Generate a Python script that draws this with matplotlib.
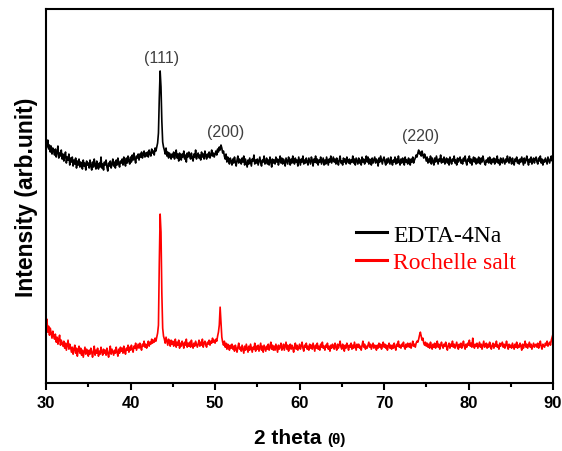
import numpy as np
import matplotlib
matplotlib.use("Agg")
import matplotlib.pyplot as plt
from matplotlib.ticker import MultipleLocator

# 2-theta grid, 30..90 deg in 0.1 deg steps
two_theta = np.round(np.arange(30.0, 90.001, 0.1), 1)

# intensity (arb.), one row per degree: x.0 ... x.9
edta_4na = [
    241, 236, 243, 234, 238, 231, 237, 229, 235, 232,  # 30
    228, 234, 226, 231, 237, 225, 230, 227, 233, 224,
    229, 222, 227, 231, 220, 226, 223, 229, 218, 225,
    221, 226, 217, 223, 219, 225, 215, 222, 218, 224,
    216, 221, 219, 214, 223, 217, 220, 213, 222, 218,
    220, 215, 223, 217, 213, 221, 216, 224, 218, 214,  # 35
    222, 217, 214, 220, 216, 226, 215, 219, 213, 221,
    218, 223, 216, 212, 220, 217, 222, 215, 219, 224,
    217, 221, 215, 223, 218, 225, 219, 216, 222, 220,
    224, 218, 226, 221, 217, 225, 220, 227, 222, 219,
    226, 221, 228, 223, 230, 224, 220, 227, 225, 229,  # 40
    223, 229, 226, 231, 225, 228, 232, 226, 230, 227,
    231, 226, 233, 229, 227, 234, 230, 232, 228, 235,
    232, 236, 240, 250, 285, 312, 296, 262, 241, 236,
    233, 229, 235, 227, 231, 225, 230, 228, 224, 229,
    226, 231, 224, 228, 233, 225, 229, 222, 230, 227,  # 45
    223, 229, 226, 232, 224, 228, 221, 230, 226, 231,
    227, 224, 230, 225, 222, 229, 226, 233, 224, 228,
    230, 225, 228, 223, 231, 226, 229, 224, 232, 227,
    224, 229, 226, 231, 225, 228, 233, 227, 230, 226,
    229, 232, 228, 234, 231, 236, 233, 238, 235, 230,  # 50
    232, 227, 224, 229, 221, 226, 223, 219, 225, 222,
    218, 224, 220, 226, 221, 217, 223, 227, 220, 224,
    222, 219, 225, 221, 227, 218, 224, 220, 216, 223,
    219, 225, 221, 217, 224, 222, 228, 219, 223, 220,
    224, 218, 222, 226, 220, 217, 223, 221, 227, 219,  # 55
    221, 225, 219, 223, 218, 226, 222, 216, 224, 220,
    223, 219, 226, 221, 224, 218, 222, 227, 220, 225,
    219, 224, 221, 217, 225, 222, 219, 226, 223, 218,
    224, 220, 227, 222, 219, 225, 221, 223, 217, 226,
    222, 218, 224, 221, 227, 219, 223, 220, 225, 221,  # 60
    218, 225, 222, 219, 226, 223, 217, 224, 221, 227,
    220, 224, 218, 223, 221, 226, 219, 222, 225, 218,
    223, 219, 226, 222, 218, 224, 221, 227, 220, 223,
    226, 221, 224, 219, 225, 222, 218, 223, 227, 220,
    222, 218, 225, 221, 224, 219, 226, 222, 220, 224,  # 65
    219, 223, 221, 227, 220, 224, 218, 225, 222, 219,
    225, 220, 223, 218, 226, 221, 224, 219, 222, 227,
    221, 226, 219, 224, 222, 218, 225, 220, 223, 226,
    220, 224, 222, 217, 225, 221, 227, 223, 219, 224,
    226, 221, 218, 224, 220, 225, 222, 219, 226, 221,  # 70
    218, 223, 221, 226, 219, 224, 220, 227, 222, 218,
    224, 220, 225, 222, 218, 226, 221, 223, 219, 225,
    222, 218, 224, 221, 226, 220, 223, 225, 228, 226,
    230, 233, 229, 231, 227, 232, 228, 225, 229, 226,
    222, 226, 220, 224, 221, 227, 219, 225, 222, 218,  # 75
    225, 221, 227, 223, 219, 224, 222, 228, 220, 224,
    221, 226, 219, 223, 225, 220, 224, 218, 226, 222,
    219, 224, 222, 227, 220, 223, 218, 225, 221, 224,
    226, 220, 223, 219, 225, 222, 227, 221, 218, 224,
    222, 227, 220, 224, 218, 223, 226, 221, 225, 219,  # 80
    224, 220, 226, 222, 219, 225, 221, 227, 223, 220,
    218, 223, 221, 225, 220, 226, 222, 219, 224, 221,
    225, 219, 224, 221, 227, 220, 223, 218, 225, 222,
    220, 225, 222, 219, 224, 221, 227, 223, 220, 226,
    223, 219, 225, 221, 218, 224, 222, 226, 220, 223,  # 85
    219, 224, 221, 226, 222, 218, 225, 220, 223, 227,
    222, 218, 224, 221, 226, 219, 223, 225, 220, 224,
    226, 221, 219, 225, 222, 227, 220, 224, 218, 223,
    221, 225, 222, 219, 226, 223, 220, 224, 227, 222,
    225,                                               # 90
]

rochelle_salt = [
    58, 64, 51, 57, 48, 55, 50, 45, 52, 47,  # 30
    44, 49, 41, 46, 39, 44, 48, 38, 43, 40,
    37, 42, 35, 40, 33, 38, 43, 34, 39, 36,
    31, 36, 29, 34, 38, 30, 35, 27, 33, 37,
    30, 35, 28, 33, 26, 31, 36, 29, 34, 30,
    27, 33, 29, 35, 31, 26, 32, 37, 28, 33,  # 35
    30, 35, 27, 32, 29, 36, 31, 28, 34, 30,
    33, 28, 35, 30, 26, 32, 37, 29, 34, 31,
    28, 33, 30, 36, 31, 27, 34, 30, 36, 32,
    35, 30, 37, 32, 29, 35, 33, 38, 31, 36,
    33, 38, 34, 31, 37, 35, 40, 33, 36, 39,  # 40
    35, 40, 36, 33, 39, 37, 42, 36, 39, 35,
    38, 42, 37, 41, 39, 44, 40, 43, 41, 45,
    42, 46, 50, 58, 120, 169, 151, 90, 55, 47,
    44, 40, 46, 42, 38, 44, 41, 37, 43, 39,
    42, 37, 40, 44, 36, 41, 38, 43, 35, 40,  # 45
    37, 42, 39, 35, 41, 38, 44, 36, 40, 37,
    41, 36, 43, 38, 35, 40, 37, 42, 39, 36,
    39, 43, 37, 41, 38, 44, 36, 40, 42, 38,
    36, 41, 39, 43, 38, 42, 40, 45, 41, 43,
    40, 44, 42, 47, 51, 58, 76, 60, 46, 41,  # 50
    38, 42, 36, 40, 34, 39, 37, 33, 38, 35,
    39, 34, 37, 32, 38, 35, 31, 36, 40, 34,
    36, 32, 38, 34, 30, 37, 33, 39, 35, 31,
    37, 33, 39, 35, 31, 36, 34, 40, 32, 37,
    34, 38, 32, 36, 40, 33, 37, 31, 38, 35,  # 55
    32, 37, 34, 39, 33, 36, 41, 34, 38, 33,
    37, 33, 39, 35, 31, 38, 34, 36, 40, 33,
    35, 39, 33, 37, 41, 34, 38, 32, 36, 39,
    34, 38, 35, 31, 37, 40, 34, 38, 33, 36,
    39, 34, 37, 41, 35, 32, 38, 36, 40, 34,  # 60
    37, 33, 39, 35, 38, 34, 40, 36, 32, 38,
    35, 40, 34, 37, 33, 39, 36, 41, 35, 37,
    33, 38, 36, 40, 34, 37, 32, 38, 35, 39,
    37, 34, 40, 36, 33, 39, 35, 38, 42, 36,
    34, 39, 36, 32, 38, 35, 40, 37, 33, 38,  # 65
    36, 40, 34, 38, 35, 41, 37, 33, 39, 36,
    39, 35, 37, 33, 38, 42, 36, 39, 34, 37,
    35, 38, 41, 36, 39, 34, 37, 40, 35, 38,
    37, 33, 38, 35, 40, 36, 39, 34, 37, 41,
    36, 39, 35, 38, 33, 37, 40, 35, 38, 34,  # 70
    38, 35, 40, 36, 33, 39, 37, 42, 36, 38,
    35, 39, 37, 41, 36, 34, 39, 36, 40, 37,
    36, 40, 35, 38, 42, 37, 39, 36, 40, 42,
    41, 44, 48, 51, 47, 43, 45, 40, 38, 41,
    37, 40, 36, 39, 35, 41, 37, 34, 39, 36,  # 75
    40, 35, 38, 42, 36, 39, 34, 38, 41, 37,
    35, 39, 37, 41, 36, 33, 38, 40, 35, 39,
    37, 42, 36, 39, 35, 38, 41, 36, 34, 39,
    36, 40, 35, 38, 42, 37, 34, 39, 36, 40,
    38, 43, 37, 40, 36, 45, 38, 35, 39, 37,  # 80
    40, 35, 38, 41, 36, 39, 34, 38, 42, 36,
    37, 40, 35, 39, 36, 41, 37, 34, 38, 40,
    35, 39, 37, 42, 36, 38, 34, 40, 37, 39,
    41, 36, 39, 35, 38, 42, 37, 34, 39, 36,
    38, 35, 40, 37, 34, 39, 36, 41, 35, 38,  # 85
    36, 40, 37, 33, 39, 35, 38, 42, 36, 39,
    35, 38, 41, 36, 39, 34, 37, 40, 36, 38,
    39, 36, 40, 35, 38, 42, 37, 34, 39, 37,
    36, 40, 38, 42, 37, 39, 41, 38, 43, 46,
    49,                                      # 90
]

peak_labels = ["(111)", "(200)", "(220)"]
peak_pos = [43.7, 51.3, 74.3]
peak_height = [325, 252, 248]

plt.rcParams["font.family"] = ["Liberation Sans", "DejaVu Sans"]

fig = plt.figure(figsize=(5.62, 4.52), dpi=100)
ax = fig.add_axes([0.082, 0.150, 0.902, 0.828])

ax.plot(two_theta, edta_4na, color="black", lw=1.2, label="EDTA-4Na")
ax.plot(two_theta, rochelle_salt, color="red", lw=1.2, label="Rochelle salt")

for lab, x, y in zip(peak_labels, peak_pos, peak_height):
    ax.text(x, y, lab, ha="center", va="center", fontsize=11.5, color="#404040")

ax.set_xlim(30, 90)
ax.set_ylim(0, 374)
ax.xaxis.set_major_locator(MultipleLocator(10))
ax.xaxis.set_minor_locator(MultipleLocator(5))
ax.set_yticks([])
ax.tick_params(axis="x", which="major", direction="out", length=5, width=1.5,
               labelsize=12)
ax.tick_params(axis="x", which="minor", direction="out", length=3, width=1.5)
for lab in ax.get_xticklabels():
    lab.set_fontweight("bold")
for sp in ax.spines.values():
    sp.set_linewidth(1.5)

# x label: big "2 theta", smaller "(θ)"
fig.text(0.583, 0.018, "2 theta ", ha="right", va="baseline",
         fontsize=15, fontweight="bold")
fig.text(0.583, 0.018, "(θ)", ha="left", va="baseline",
         fontsize=11, fontweight="bold")
ax.set_ylabel("Intensity (arb.unit)", fontsize=16.5, fontweight="bold", labelpad=6)

leg = ax.legend(loc="upper left", bbox_to_anchor=(0.57, 0.482), frameon=False,
                prop={"family": "Liberation Serif", "size": 17},
                handlelength=1.3, handletextpad=0.25, labelspacing=0.25,
                labelcolor="linecolor")
for line in leg.get_lines():
    line.set_linewidth(2.2)

fig.savefig("out.png", dpi=100)
